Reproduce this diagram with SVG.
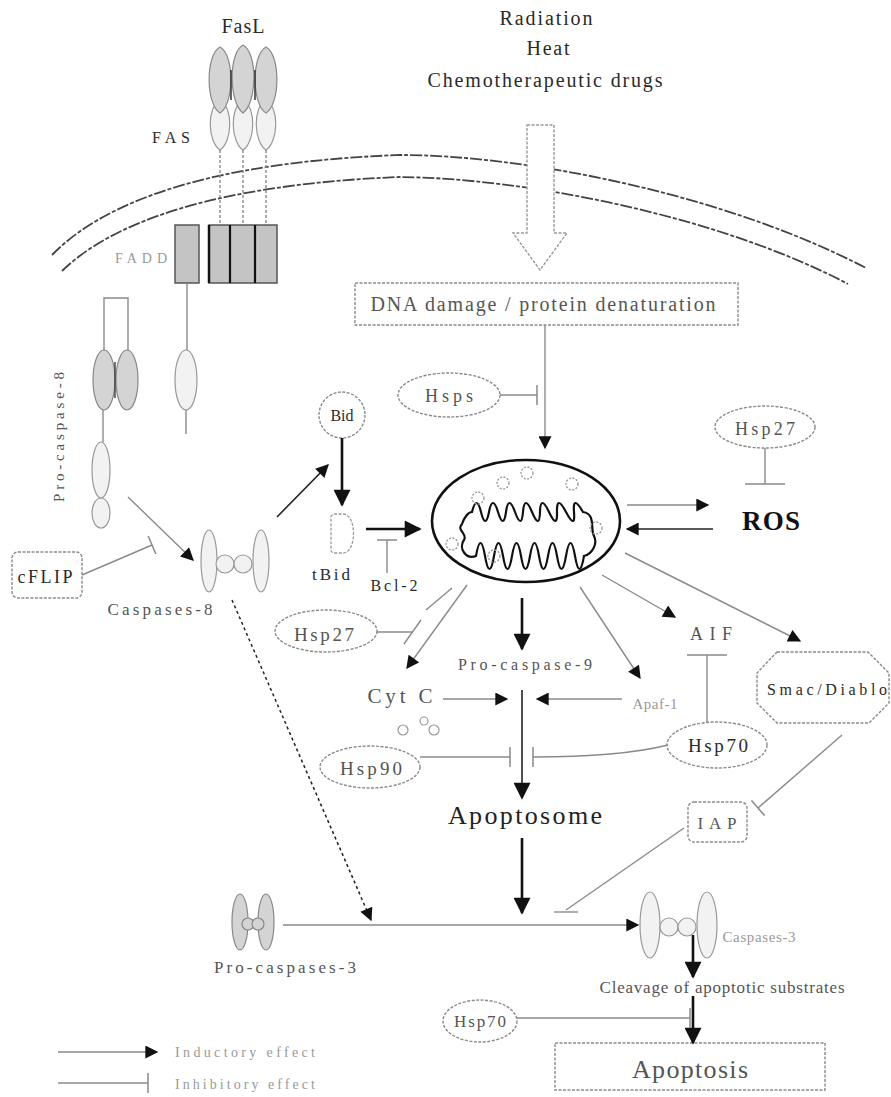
<svg xmlns="http://www.w3.org/2000/svg" width="891" height="1097" viewBox="0 0 891 1097">
<style>
text{font-family:"Liberation Serif","Times New Roman",serif;text-anchor:middle;}
.dk{fill:#2a2a2a;}
.md{fill:#555;}
.lt{fill:#999;}
.ln{stroke:#8a8a8a;stroke-width:1.4;fill:none;}
.thk{stroke:#111;stroke-width:2.6;fill:none;}
.blk{stroke:#222;stroke-width:1.6;fill:none;}
.nd{fill:#fff;stroke:#8a8a8a;stroke-width:1.4;stroke-dasharray:3,1.5;}
.sh{fill:#d4d4d4;stroke:#888;stroke-width:1.2;}
.sl{fill:#f2f2f2;stroke:#999;stroke-width:1.2;}
.mem{stroke:#444;stroke-width:1.8;fill:none;stroke-dasharray:12,2,4,2;}
</style>
<defs>
<marker id="ah" viewBox="0 0 10 10" refX="9" refY="5" markerWidth="14" markerHeight="13" markerUnits="userSpaceOnUse" orient="auto"><path d="M0,0 L10,5 L0,10 z" fill="#111"/></marker>
<marker id="ahb" viewBox="0 0 10 10" refX="9" refY="5" markerWidth="20" markerHeight="17" markerUnits="userSpaceOnUse" orient="auto"><path d="M0,0 L10,5 L0,10 z" fill="#111"/></marker>
<marker id="tb" viewBox="0 0 4 20" refX="2" refY="10" markerWidth="4" markerHeight="20" markerUnits="userSpaceOnUse" orient="auto"><line x1="2" y1="0" x2="2" y2="20" stroke="#888" stroke-width="1.5"/></marker>
<marker id="tbw" viewBox="0 0 4 40" refX="2" refY="20" markerWidth="4" markerHeight="40" markerUnits="userSpaceOnUse" orient="auto"><line x1="2" y1="0" x2="2" y2="40" stroke="#888" stroke-width="1.5"/></marker>
</defs>
<rect width="891" height="1097" fill="#fff"/>

<!-- membrane -->
<g id="membrane">
<path class="mem" d="M52,255 C120,185 260,160 400,155 C520,155 720,192 866,268"/>
<path class="mem" d="M62,271 C130,205 270,182 400,177 C520,178 715,214 848,284"/>
</g>

<!-- stimuli -->
<g id="stimuli">
<text class="dk" x="546" y="25" font-size="20" textLength="93" lengthAdjust="spacing">Radiation</text>
<text class="dk" x="548" y="55" font-size="20" textLength="43" lengthAdjust="spacing">Heat</text>
<text class="dk" x="545" y="87" font-size="20" textLength="235" lengthAdjust="spacing">Chemotherapeutic drugs</text>
<path d="M527,125 L554,125 L554,233 L567,233 L540,270 L513,233 L527,233 Z" fill="#fff" stroke="#999" stroke-width="1.4" stroke-dasharray="3,1.5"/>
</g>

<!-- FasL / FAS -->
<g id="fasl">
<text class="dk" x="243" y="33" font-size="20" textLength="43" lengthAdjust="spacing">FasL</text>
<path class="sl" d="M220,100 C234,108 232,142 220,150 C208,142 206,108 220,100 Z"/>
<path class="sl" d="M266,100 C280,108 278,142 266,150 C254,142 252,108 266,100 Z"/>
<path class="sl" d="M243,100 C257,108 255,142 243,150 C231,142 229,108 243,100 Z"/>
<path class="sh" d="M220,47 C235,55 234,105 220,113 C206,105 205,55 220,47 Z"/>
<path class="sh" d="M266,47 C281,55 280,105 266,113 C252,105 251,55 266,47 Z"/>
<path class="sh" d="M243,45 C258,53 257,103 243,113 C229,103 228,53 243,45 Z"/>
<line x1="231" y1="70" x2="231" y2="100" stroke="#333" stroke-width="1.5"/>
<line x1="255" y1="70" x2="255" y2="100" stroke="#333" stroke-width="1.5"/>
</g>
<g id="fas">
<text class="dk" x="171" y="143" font-size="16" textLength="38" lengthAdjust="spacing">FAS</text>
<line class="ln" x1="220" y1="150" x2="220" y2="225" stroke-dasharray="3,2"/>
<line class="ln" x1="243" y1="150" x2="243" y2="225" stroke-dasharray="3,2"/>
<line class="ln" x1="266" y1="150" x2="266" y2="225" stroke-dasharray="3,2"/>
</g>
<g id="fadd">
<text class="lt" x="141" y="263" font-size="14" textLength="52" lengthAdjust="spacing">FADD</text>
<rect x="175" y="225" width="24" height="58" fill="#c4c4c4" stroke="#555" stroke-width="1.5"/>
<rect x="209" y="225" width="68" height="58" fill="#c4c4c4" stroke="#555" stroke-width="1.5"/>
<line x1="209" y1="225" x2="209" y2="283" stroke="#111" stroke-width="2.5"/>
<line x1="230" y1="225" x2="230" y2="283" stroke="#111" stroke-width="2.2"/>
<line x1="255" y1="225" x2="255" y2="283" stroke="#111" stroke-width="2.2"/>
<line class="ln" x1="187" y1="283" x2="187" y2="350"/>
<ellipse class="sl" cx="186" cy="380" rx="11" ry="30"/>
<line class="ln" x1="186" y1="410" x2="186" y2="434"/>
</g>

<!-- procaspase-8 -->
<g id="procaspase8">
<text class="md" font-size="15" transform="translate(64,437) rotate(-90)" textLength="130" lengthAdjust="spacing">Pro-caspase-8</text>
<path class="ln" d="M104,352 L104,298 L128,298 L128,352"/>
<ellipse class="sh" cx="104" cy="380" rx="11" ry="30"/>
<ellipse class="sh" cx="127" cy="380" rx="11" ry="30"/>
<line x1="115" y1="362" x2="115" y2="398" stroke="#444" stroke-width="1.5"/>
<line class="ln" x1="103" y1="410" x2="103" y2="442"/>
<ellipse class="sl" cx="101" cy="470" rx="9" ry="28"/>
<ellipse class="sl" cx="101" cy="513" rx="9" ry="15"/>
</g>
<g id="cflip">
<rect class="nd" x="12" y="552" width="70" height="46" rx="6"/>
<text class="dk" x="45" y="583" font-size="18" textLength="55" lengthAdjust="spacing">cFLIP</text>
</g>

<!-- caspase-8 -->
<g id="caspase8">
<ellipse class="sl" cx="209" cy="561" rx="8" ry="31"/>
<ellipse class="sl" cx="261" cy="561" rx="8" ry="31"/>
<circle class="sl" cx="225" cy="564" r="9"/>
<circle class="sl" cx="243" cy="564" r="9"/>
<text class="md" x="160" y="615" font-size="17" textLength="105" lengthAdjust="spacing">Caspases-8</text>
</g>

<!-- Bid / tBid -->
<g id="bid">
<circle class="nd" cx="342" cy="415" r="23"/>
<text class="dk" x="342" y="421" font-size="16" textLength="23" lengthAdjust="spacing">Bid</text>
</g>
<g id="tbid">
<path d="M331,517 Q331,514 336,514 L343,514 C357,514 357,553 343,553 L336,553 Q331,553 331,550 Z" fill="#fff" stroke="#999" stroke-width="1.3" stroke-dasharray="3,1.5"/>
<text class="dk" x="331" y="580" font-size="17" textLength="38" lengthAdjust="spacing">tBid</text>
</g>
<g id="bcl2">
<text class="dk" x="394" y="591" font-size="16" textLength="47" lengthAdjust="spacing">Bcl-2</text>
</g>

<!-- Hsp27 left -->
<g id="hsp27a">
<ellipse class="nd" cx="326" cy="631" rx="51" ry="21"/>
<text class="md" x="324" y="641" font-size="19" textLength="60" lengthAdjust="spacing">Hsp27</text>
</g>

<!-- DNA damage -->
<g id="dna">
<rect class="nd" x="355" y="283" width="383" height="42"/>
<text class="md" x="543" y="311" font-size="20" textLength="345" lengthAdjust="spacing">DNA damage / protein denaturation</text>
</g>

<g id="hsps">
<ellipse class="nd" cx="449" cy="395" rx="51" ry="22"/>
<text class="md" x="449" y="402" font-size="18" textLength="48" lengthAdjust="spacing">Hsps</text>
</g>

<!-- Mitochondrion -->
<g id="mito">
<ellipse cx="526" cy="521" rx="94" ry="61" fill="#fff" stroke="#111" stroke-width="2.6"/>
<path d="M472,512 q4.5,-18 9,0 t8,0 t9,0 t8,0 t9,0 t8,0 t9,0 t8,0 t9,0 t8,0 t9,0 t8,0 t9,0 C596,514 590,528 594,536 C598,544 592,554 584,556 q-4.5,26 -9,0 t-9,0 t-9,0 t-9,0 t-9,0 t-9,0 t-9,0 t-9,0 t-9,0 t-9,0 t-9,0 t-9,0 C466,560 458,548 464,540 C468,534 456,530 462,524 C464,518 468,512 472,512 Z" fill="none" stroke="#111" stroke-width="2.2"/>
<g fill="none" stroke="#999" stroke-width="1.3" stroke-dasharray="2,1.5">
<circle cx="527" cy="473" r="6"/><circle cx="503" cy="483" r="6"/><circle cx="572" cy="484" r="6"/>
<circle cx="478" cy="498" r="6"/><circle cx="596" cy="528" r="6"/><circle cx="452" cy="544" r="6"/>
<circle cx="494" cy="556" r="6"/>
</g>
</g>

<g id="hsp27b">
<ellipse class="nd" cx="765" cy="427" rx="50" ry="21"/>
<text class="md" x="765" y="435" font-size="18" textLength="60" lengthAdjust="spacing">Hsp27</text>
</g>
<g id="ros">
<text x="771" y="530" font-size="27" font-weight="bold" fill="#111" textLength="58" lengthAdjust="spacing">ROS</text>
</g>
<g id="aif">
<text class="md" x="711" y="640" font-size="18" textLength="42" lengthAdjust="spacing">AIF</text>
</g>
<g id="smac">
<path class="nd" d="M777,652 L868,652 L889,673 L889,703 L869,723 L777,723 L757,703 L757,673 Z"/>
<text class="dk" x="827" y="695" font-size="16" textLength="120" lengthAdjust="spacing">Smac/Diablo</text>
</g>
<g id="procasp9">
<text class="md" x="525" y="670" font-size="16" textLength="134" lengthAdjust="spacing">Pro-caspase-9</text>
</g>
<g id="cytc">
<text class="md" x="400" y="703" font-size="21" textLength="65" lengthAdjust="spacing">Cyt C</text>
<g fill="none" stroke="#999" stroke-width="1.2"><circle cx="403" cy="730" r="5"/><circle cx="424" cy="721" r="4"/><circle cx="434" cy="730" r="5"/></g>
</g>
<g id="apaf1">
<text class="lt" x="655" y="709" font-size="15" textLength="45" lengthAdjust="spacing">Apaf-1</text>
</g>
<g id="hsp70a">
<ellipse class="nd" cx="717" cy="745" rx="50" ry="23"/>
<text class="dk" x="718" y="752" font-size="19" textLength="60" lengthAdjust="spacing">Hsp70</text>
</g>
<g id="hsp90">
<ellipse class="nd" cx="370" cy="767" rx="50" ry="21"/>
<text class="md" x="371" y="775" font-size="19" textLength="62" lengthAdjust="spacing">Hsp90</text>
</g>
<g id="apoptosome">
<text x="525" y="824" font-size="26" fill="#222" textLength="154" lengthAdjust="spacing">Apoptosome</text>
</g>
<g id="iap">
<rect class="nd" x="688" y="802" width="59" height="40" rx="6"/>
<text class="md" x="717" y="829" font-size="17" textLength="39" lengthAdjust="spacing">IAP</text>
</g>

<!-- caspase-3 -->
<g id="procaspase3">
<ellipse class="sh" cx="240" cy="922" rx="8" ry="28"/>
<ellipse class="sh" cx="266" cy="922" rx="8" ry="28"/>
<circle class="sh" cx="248" cy="924" r="6"/>
<circle class="sh" cx="258" cy="924" r="6"/>
<text class="md" x="285" y="973" font-size="17" textLength="142" lengthAdjust="spacing">Pro-caspases-3</text>
</g>
<g id="caspase3">
<ellipse class="sl" cx="650" cy="925" rx="10" ry="33"/>
<circle class="sl" cx="669" cy="927" r="9"/>
<circle class="sl" cx="687" cy="927" r="9"/>
<ellipse class="sl" cx="707" cy="925" rx="10" ry="33"/>
<text class="lt" x="759" y="942" font-size="15" textLength="73" lengthAdjust="spacing">Caspases-3</text>
</g>
<g id="cleavage">
<text class="md" x="722" y="993" font-size="17" textLength="245" lengthAdjust="spacing">Cleavage of apoptotic substrates</text>
</g>
<g id="hsp70b">
<ellipse class="nd" cx="480" cy="1021" rx="37" ry="21"/>
<text class="md" x="480" y="1027" font-size="17" textLength="52" lengthAdjust="spacing">Hsp70</text>
</g>
<g id="apoptosis">
<rect class="nd" x="555" y="1043" width="270" height="47"/>
<text class="md" x="690" y="1078" font-size="26" textLength="116" lengthAdjust="spacing">Apoptosis</text>
</g>

<!-- connectors -->
<g id="connectors">
<line class="ln" x1="545" y1="325" x2="545" y2="448" marker-end="url(#ah)"/>
<line class="ln" x1="500" y1="395" x2="537" y2="395" marker-end="url(#tb)"/>
<line class="ln" x1="128" y1="497" x2="193" y2="560" marker-end="url(#ah)"/>
<line class="ln" x1="82" y1="575" x2="152" y2="545" marker-end="url(#tb)"/>
<line class="blk" x1="277" y1="517" x2="328" y2="465" marker-end="url(#ah)"/>
<line class="thk" x1="342" y1="438" x2="342" y2="505" marker-end="url(#ahb)"/>
<line class="thk" x1="366" y1="529" x2="420" y2="529" marker-end="url(#ahb)"/>
<line class="ln" x1="387" y1="573" x2="387" y2="540" marker-end="url(#tb)"/>
<line class="ln" x1="377" y1="632" x2="412" y2="632"/>
<line class="ln" x1="404" y1="644" x2="421" y2="620"/>
<line class="ln" x1="452" y1="588" x2="426" y2="610"/>
<line class="ln" x1="467" y1="585" x2="407" y2="668" marker-end="url(#ah)"/>
<line class="ln" x1="765" y1="448" x2="765" y2="484" marker-end="url(#tbw)"/>
<line class="ln" x1="627" y1="505" x2="708" y2="505" marker-end="url(#ah)"/>
<line class="blk" x1="713" y1="529" x2="627" y2="529" marker-end="url(#ah)"/>
<line class="thk" x1="522" y1="598" x2="522" y2="649" marker-end="url(#ahb)"/>
<line class="ln" x1="602" y1="575" x2="675" y2="617" marker-end="url(#ah)"/>
<line class="ln" x1="625" y1="553" x2="800" y2="641" marker-end="url(#ah)"/>
<line class="ln" x1="580" y1="587" x2="640" y2="678" marker-end="url(#ah)"/>
<line class="ln" x1="443" y1="699" x2="507" y2="699" marker-end="url(#ah)"/>
<line class="ln" x1="622" y1="699" x2="537" y2="699" marker-end="url(#ah)"/>
<line class="blk" x1="522" y1="690" x2="522" y2="798" marker-end="url(#ahb)"/>
<line class="ln" x1="420" y1="757" x2="510" y2="757" marker-end="url(#tb)"/>
<path class="ln" d="M668,745 C640,752 600,757 533,757" marker-end="url(#tb)"/>
<line class="ln" x1="707" y1="722" x2="707" y2="655" marker-end="url(#tbw)"/>
<line class="ln" x1="842" y1="735" x2="758" y2="808" marker-end="url(#tb)"/>
<line class="ln" x1="684" y1="828" x2="566" y2="910"/>
<line class="ln" x1="554" y1="912" x2="578" y2="912"/>
<line class="thk" x1="522" y1="838" x2="522" y2="913" marker-end="url(#ahb)"/>
<line x1="232" y1="600" x2="371" y2="920" stroke="#222" stroke-width="1.5" stroke-dasharray="3,3" marker-end="url(#ah)"/>
<line class="ln" x1="283" y1="925" x2="638" y2="925" marker-end="url(#ah)"/>
<line class="thk" x1="693" y1="935" x2="693" y2="977" marker-end="url(#ahb)"/>
<line class="thk" x1="693" y1="996" x2="693" y2="1043" marker-end="url(#ahb)"/>
<line class="ln" x1="517" y1="1018" x2="690" y2="1018" marker-end="url(#tb)"/>
</g>

<!-- legend -->
<g id="legend">
<line class="ln" x1="58" y1="1052" x2="157" y2="1052" marker-end="url(#ah)"/>
<text class="lt" x="245" y="1057" font-size="14" textLength="140" lengthAdjust="spacing">Inductory effect</text>
<line class="ln" x1="58" y1="1083" x2="148" y2="1083" marker-end="url(#tb)"/>
<text class="lt" x="245" y="1089" font-size="14" textLength="140" lengthAdjust="spacing">Inhibitory effect</text>
</g>
</svg>
